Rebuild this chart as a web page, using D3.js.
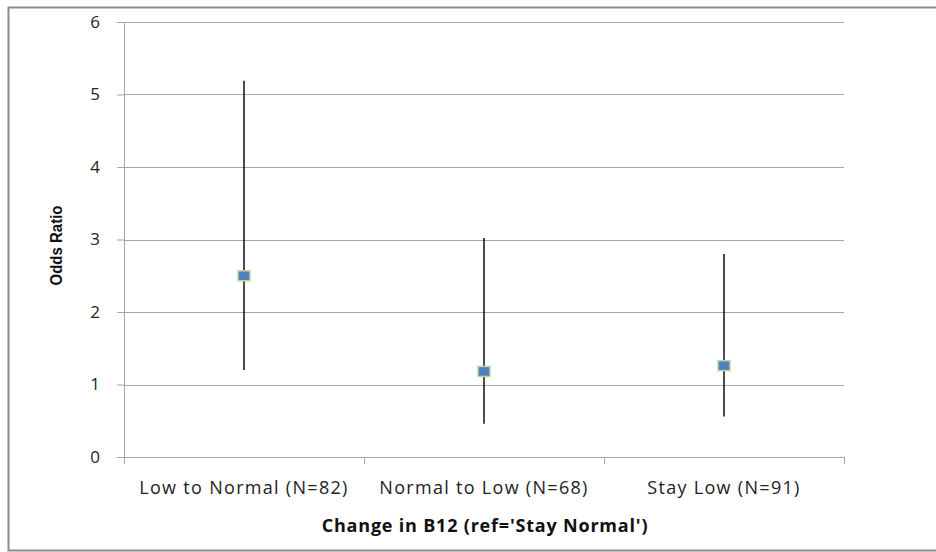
<!DOCTYPE html>
<html>
<head>
<meta charset="utf-8">
<script src="https://cdn.jsdelivr.net/npm/d3@7"></script>
<style>
  body { margin: 0; background: #fff; }
  svg { display: block; }
</style>
</head>
<body>
<div id="chart"></div>
<script>
// data
var categories = ["Low to Normal (N=82)", "Normal to Low (N=68)", "Stay Low (N=91)"];
var oddsRatio = [2.50, 1.18, 1.26];
var lowerCI = [1.20, 0.46, 0.56];
var upperCI = [5.19, 3.02, 2.80];
var yTicks = [0, 1, 2, 3, 4, 5, 6];

var data = categories.map(function (c, i) {
    return { cat: c, or: oddsRatio[i], lo: lowerCI[i], hi: upperCI[i] };
});

var W = 936, H = 552;
var margin = { top: 22, right: 92, bottom: 95, left: 124 },
    width = W - margin.left - margin.right,
    height = H - margin.top - margin.bottom;

var svg = d3.select("#chart")
    .append("svg")
    .attr("width", W)
    .attr("height", H);

// outer chart frame
svg.append("rect")
    .attr("x", 8.5).attr("y", 7.5)
    .attr("width", 940).attr("height", 543)
    .attr("fill", "none")
    .attr("stroke", "#8c8c8c")
    .attr("stroke-width", 2);

var g = svg.append("g")
    .attr("transform", "translate(" + margin.left + "," + margin.top + ")");

var x = d3.scaleBand()
    .domain(categories)
    .range([0, width]);

var y = d3.scaleLinear()
    .domain([0, 6])
    .range([height, 0]);

// gridlines
g.append("g")
    .selectAll("line")
    .data(yTicks.filter(function (d) { return d > 0; }))
    .enter()
    .append("line")
    .attr("x1", 0).attr("x2", width)
    .attr("y1", function (d) { return Math.round(y(d)) + 0.5; })
    .attr("y2", function (d) { return Math.round(y(d)) + 0.5; })
    .attr("stroke", "#a6a6a6")
    .attr("stroke-width", 1);

// y axis
var yAxis = g.append("g")
    .call(d3.axisLeft(y).tickValues(yTicks).tickFormat(d3.format("d"))
        .tickSize(7).tickPadding(17).tickSizeOuter(0));
yAxis.select(".domain").attr("stroke", "#a6a6a6");
yAxis.selectAll(".tick line").attr("stroke", "#a6a6a6");
yAxis.selectAll("text")
    .attr("font-family", "'Open Sans', sans-serif")
    .attr("font-size", "17px")
    .attr("fill", "#222");

// x axis, ticks between categories
var xAxis = g.append("g")
    .attr("transform", "translate(0," + height + ")");
xAxis.append("line")
    .attr("x1", 0).attr("x2", width)
    .attr("y1", 0.5).attr("y2", 0.5)
    .attr("stroke", "#a6a6a6");
var bounds = [0].concat(categories.map(function (c) { return x(c) + x.bandwidth(); }));
xAxis.selectAll(".xtick")
    .data(bounds)
    .enter()
    .append("line")
    .attr("x1", function (d) { return Math.round(d) + 0.5; })
    .attr("x2", function (d) { return Math.round(d) + 0.5; })
    .attr("y1", 0).attr("y2", 7)
    .attr("stroke", "#a6a6a6");
xAxis.selectAll(".xlab")
    .data(categories)
    .enter()
    .append("text")
    .attr("x", function (d) { return x(d) + x.bandwidth() / 2; })
    .attr("y", 37)
    .attr("text-anchor", "middle")
    .attr("font-family", "'Open Sans', sans-serif")
    .attr("font-size", "18px")
    .attr("letter-spacing", "1.3px")
    .attr("fill", "#222")
    .text(function (d) { return d; });

// error bars
g.append("g")
    .selectAll("line")
    .data(data)
    .enter()
    .append("line")
    .attr("x1", function (d) { return x(d.cat) + x.bandwidth() / 2; })
    .attr("x2", function (d) { return x(d.cat) + x.bandwidth() / 2; })
    .attr("y1", function (d) { return y(d.hi); })
    .attr("y2", function (d) { return y(d.lo); })
    .attr("stroke", "#111")
    .attr("stroke-width", 1.5);

// point markers
g.append("g")
    .selectAll("rect")
    .data(data)
    .enter()
    .append("rect")
    .attr("x", function (d) { return x(d.cat) + x.bandwidth() / 2 - 6; })
    .attr("y", function (d) { return y(d.or) - 5; })
    .attr("width", 12)
    .attr("height", 10)
    .attr("fill", "#4f81bd")
    .attr("stroke", "#c3d69b")
    .attr("stroke-width", 1.5);

// axis titles
svg.append("text")
    .attr("transform", "translate(62," + (margin.top + height / 2 + 6) + ") rotate(-90)")
    .attr("text-anchor", "middle")
    .attr("font-family", "'Liberation Sans', sans-serif")
    .attr("font-weight", "bold")
    .attr("font-size", "17px")
    .attr("textLength", 80)
    .attr("lengthAdjust", "spacingAndGlyphs")
    .attr("fill", "#111")
    .text("Odds Ratio");

svg.append("text")
    .attr("x", margin.left + width / 2 + 1)
    .attr("y", 532)
    .attr("text-anchor", "middle")
    .attr("font-family", "'Open Sans', sans-serif")
    .attr("font-weight", "bold")
    .attr("font-size", "18px")
    .attr("letter-spacing", "0.8px")
    .attr("fill", "#111")
    .text("Change in B12 (ref='Stay Normal')");
</script>
</body>
</html>
